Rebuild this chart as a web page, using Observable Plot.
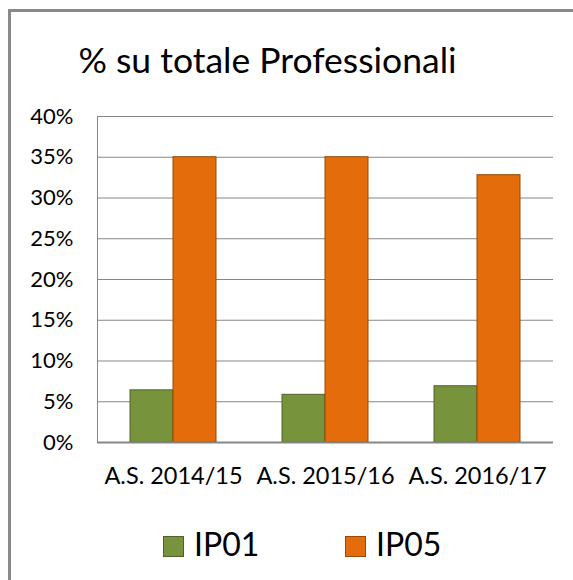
<!DOCTYPE html>
<html><head><meta charset="utf-8">
<script src="https://cdn.jsdelivr.net/npm/d3@7"></script>
<script src="https://cdn.jsdelivr.net/npm/@observablehq/plot@0.6"></script>
<style>
body{margin:0;background:#fff;}
#wrap{position:relative;width:573px;height:580px;overflow:hidden;font-family:Lato,sans-serif;background:#fff;}
#border{position:absolute;left:8px;top:9px;width:700px;height:700px;border-left:3px solid #8a8a8a;border-top:3px solid #8a8a8a;}
#title{position:absolute;left:0;width:535px;top:40px;text-align:center;font-size:35.5px;line-height:40px;color:#000;white-space:nowrap;}
.layer{position:absolute;left:0;top:0;}
.leg{position:absolute;top:536px;width:19px;height:19px;}
.legt{position:absolute;top:524px;font-size:32px;line-height:40px;color:#000;}
</style></head>
<body><div id="wrap">
<div id="border"></div>
<div id="title">% su totale Professionali</div>
<div id="grid" class="layer"></div>
<div id="bars" class="layer"></div>
<div id="legend"></div>
</div>
<script>
const categories = ["A.S. 2014/15", "A.S. 2015/16", "A.S. 2016/17"];
const series = ["IP01", "IP05"];
const ip01 = [0.064, 0.0585, 0.069];
const ip05 = [0.35, 0.35, 0.328];
const yTicks = [0, 0.05, 0.10, 0.15, 0.20, 0.25, 0.30, 0.35, 0.40];
const fills = ["#77933C", "#E46C0A"];
const strokes = ["#4F6228", "#984807"];

const data = [];
categories.forEach((c, i) => {
  data.push({cat: c, series: series[0], value: ip01[i]});
  data.push({cat: c, series: series[1], value: ip05[i]});
});

const common = {
  width: 573, height: 500,
  marginLeft: 97, marginRight: 20, marginTop: 116, marginBottom: 58,
  style: {fontFamily: "Lato, sans-serif", color: "#000", background: "transparent"}
};
const padIn = 0.4276, padOut = 0.2138;
const yScale = {domain: [0, 0.4], label: null};

// background layer: axes and gridlines
const grid = Plot.plot({
  ...common,
  x: {domain: categories, paddingInner: padIn, paddingOuter: padOut, label: null},
  y: yScale,
  marks: [
    Plot.ruleY(yTicks.filter(t => t > 0), {stroke: "#868686", strokeOpacity: 1, strokeWidth: 1}),
    Plot.frame({anchor: "left", stroke: "#868686", strokeOpacity: 1}),
    Plot.axisY({ticks: yTicks, tickFormat: d3.format(".0%"), tickSize: 0, tickPadding: 24, fontSize: 22, label: null, fill: "#000"}),
    Plot.axisX({tickSize: 0, tickPadding: 25, fontSize: 23.5, label: null, fill: "#000"})
  ]
});
document.getElementById("grid").appendChild(grid);

// foreground layer: grouped bars
const bars = Plot.plot({
  ...common,
  fx: {domain: categories, paddingInner: padIn, paddingOuter: padOut, axis: null, label: null},
  x: {domain: series, axis: null, padding: 0},
  y: {...yScale, axis: null},
  marks: [
    Plot.barY(data.filter(d => d.series === series[0]), {fx: "cat", x: "series", y: "value", fill: fills[0], stroke: strokes[0], strokeWidth: 1}),
    Plot.barY(data.filter(d => d.series === series[1]), {fx: "cat", x: "series", y: "value", fill: fills[1], stroke: strokes[1], strokeWidth: 1})
  ]
});
document.getElementById("bars").appendChild(bars);

// bottom axis line on top
const base = Plot.plot({
  ...common,
  x: {domain: categories, axis: null},
  y: {...yScale, axis: null},
  marks: [Plot.ruleY([0], {stroke: "#868686", strokeOpacity: 1, strokeWidth: 2})]
});
const baseDiv = document.createElement("div");
baseDiv.className = "layer";
baseDiv.appendChild(base);
document.getElementById("wrap").appendChild(baseDiv);

const legend = document.getElementById("legend");
const legX = [163, 345];
series.forEach((s, i) => {
  const sw = document.createElement("div");
  sw.className = "leg";
  sw.style.left = legX[i] + "px";
  sw.style.background = fills[i];
  sw.style.border = "1.5px solid " + strokes[i];
  legend.appendChild(sw);
  const t = document.createElement("div");
  t.className = "legt";
  t.style.left = (legX[i] + 31) + "px";
  t.textContent = s;
  legend.appendChild(t);
});
</script>
</body></html>
